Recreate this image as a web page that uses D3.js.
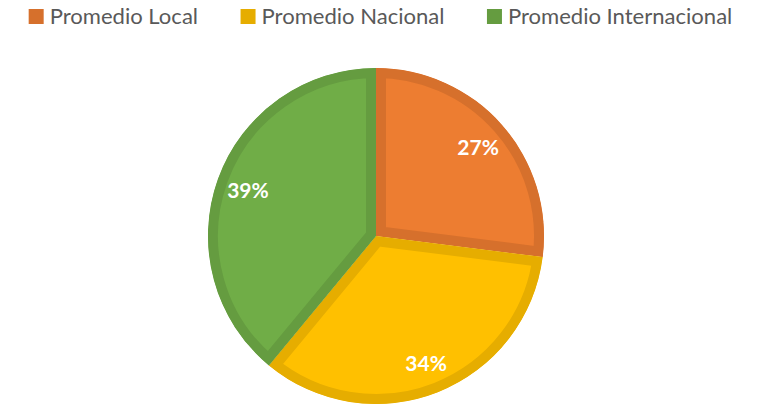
<!DOCTYPE html>
<html>
<head>
<meta charset="utf-8">
<script src="https://cdn.jsdelivr.net/npm/d3@7"></script>
<style>
  html, body { margin: 0; padding: 0; background: #fff; }
  svg { display: block; }
</style>
</head>
<body>
<svg id="chart" width="763" height="404"></svg>
<script>
const categories = ["Promedio Local", "Promedio Nacional", "Promedio Internacional"];
const values = [27, 34, 39];
const fillColors = ["#ED7D31", "#FFC000", "#70AD47"];
const borderColors = ["#D6702C", "#E6AD00", "#659C40"];

const W = 763, H = 404;
const svg = d3.select("#chart");
const cx = 376, cy = 236, R = 168;
const borderW = 10;

const pie = d3.pie().sort(null).value(d => d.v).startAngle(0).endAngle(2 * Math.PI);
const data = categories.map((c, i) => ({ c, v: values[i], i }));
const arcs = pie(data);
const arc = d3.arc().innerRadius(0).outerRadius(R);
const total = d3.sum(values);

const defs = svg.append("defs");
arcs.forEach((a, i) => {
  defs.append("clipPath").attr("id", "clip" + i)
    .append("path").attr("d", arc(a));
});

const g = svg.append("g").attr("transform", `translate(${cx},${cy})`);
g.selectAll("path.slice").data(arcs).enter().append("path")
  .attr("class", "slice")
  .attr("d", arc)
  .attr("fill", d => fillColors[d.data.i])
  .attr("stroke", d => borderColors[d.data.i])
  .attr("stroke-width", borderW * 2)
  .attr("stroke-linejoin", "miter")
  .attr("clip-path", (d, i) => `url(#clip${i})`);

const labelArc = d3.arc().innerRadius(R * 0.81).outerRadius(R * 0.81);
g.selectAll("text.lbl").data(arcs).enter().append("text")
  .attr("class", "lbl")
  .attr("transform", d => `translate(${labelArc.centroid(d)})`)
  .attr("text-anchor", "middle")
  .attr("dominant-baseline", "central")
  .attr("font-family", "Lato, 'Open Sans', sans-serif")
  .attr("font-weight", "bold")
  .attr("font-size", 21)
  .attr("fill", "#fff")
  .text(d => Math.round(d.data.v / total * 100) + "%");

// Legend
const legend = svg.append("g").attr("class", "legend");
const fontFamily = "Lato, 'Open Sans', sans-serif";
const items = legend.selectAll("g").data(categories).enter().append("g");
items.append("rect")
  .attr("width", 15).attr("height", 15)
  .attr("y", 9)
  .attr("fill", (d, i) => borderColors[i]);
const texts = items.append("text")
  .attr("y", 24)
  .attr("font-family", fontFamily)
  .attr("font-size", 21)
  .attr("fill", "#595959")
  .text(d => d);
// Fit font size so that the middle entry has the target width
const target = 183;
const w0 = texts.nodes()[1].getComputedTextLength();
const fs = 21 * target / w0;
texts.attr("font-size", fs);
const widths = texts.nodes().map(n => n.getComputedTextLength());
const gap = 42.5, sq = 15, sqGap = 6;
const totalW = d3.sum(widths) + widths.length * (sq + sqGap) + gap * (widths.length - 1);
let x = (27 + 734) / 2 - totalW / 2;
items.each(function (d, i) {
  const it = d3.select(this);
  it.select("rect").attr("x", x);
  it.select("text").attr("x", x + sq + sqGap);
  x += sq + sqGap + widths[i] + gap;
});
</script>
</body>
</html>
